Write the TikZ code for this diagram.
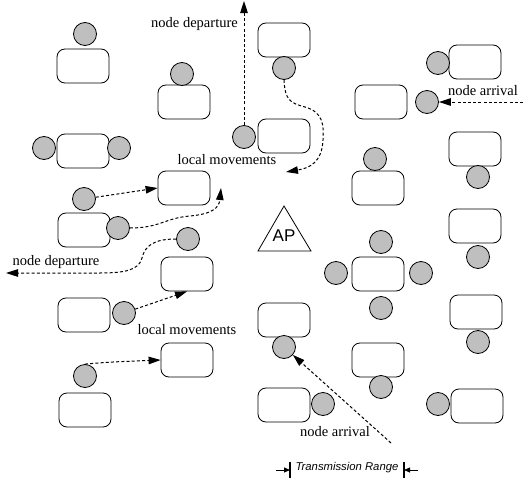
\documentclass[tikz,border=0pt]{standalone}
\usepackage{fontspec}
\setmainfont{Liberation Serif}
\setsansfont{Liberation Sans}
\usetikzlibrary{arrows.meta}
\begin{document}
\begin{tikzpicture}[x=1pt,y=-1pt,
  stn/.style={draw, rounded corners=8pt, minimum width=52pt, minimum height=34pt, inner sep=0pt, line width=0.8pt},
  mob/.style={draw, circle, fill=black!25, minimum size=23pt, inner sep=0pt, line width=0.8pt},
  mv/.style={line width=1pt, dash pattern=on 3pt off 2.2pt, -{Triangle[length=12pt,width=7.5pt]}},
  lbl/.style={font=\fontsize{14.5}{16}\selectfont, inner sep=0pt},
  rng/.style={line width=0.8pt, -{Triangle[length=6pt,width=5pt]}}]
\useasboundingbox (0,0) rectangle (523,482);
% stations
\node[stn] (bA1) at (83,66) {};
\node[stn] (bA2) at (83,151) {};
\node[stn] (bA3) at (84,230) {};
\node[stn] (bA4) at (84,315) {};
\node[stn] (bA5) at (85,410) {};
\node[stn] (bB1) at (184,102) {};
\node[stn] (bB2) at (184,188) {};
\node[stn] (bB3) at (187,274) {};
\node[stn] (bB4) at (187,360) {};
\node[stn] (bC1) at (284,40) {};
\node[stn] (bC2) at (284,136) {};
\node[stn] (bC3) at (284,320) {};
\node[stn] (bC4) at (284,405) {};
\node[stn] (bD1) at (381,102) {};
\node[stn] (bD2) at (378,188) {};
\node[stn] (bD3) at (378,274) {};
\node[stn] (bD4) at (378,360) {};
\node[stn] (bE1) at (475,62) {};
\node[stn] (bE2) at (475,149) {};
\node[stn] (bE3) at (475,226) {};
\node[stn] (bE4) at (476,312) {};
\node[stn] (bE5) at (477,406) {};
% mobiles
\node[mob] (cA1) at (85,34) {};
\node[mob] (cB1) at (182,74) {};
\node[mob] (cA2l) at (44,148) {};
\node[mob] (cA2r) at (119,148) {};
\node[mob] (cC2) at (244,137) {};
\node[mob] (cC1) at (284,68) {};
\node[mob] (cE1) at (438,63) {};
\node[mob] (cD1) at (427,102) {};
\node[mob] (cE2) at (478,177) {};
\node[mob] (cD2) at (375,159) {};
\node[mob] (cE3) at (478,257) {};
\node[mob] (cD3t) at (381,242) {};
\node[mob] (cD3l) at (336,273) {};
\node[mob] (cD3r) at (421,273) {};
\node[mob] (cD3b) at (381,308) {};
\node[mob] (cC3) at (284,347) {};
\node[mob] (cE4) at (478,342) {};
\node[mob] (cD4) at (381,387) {};
\node[mob] (cC4) at (323,404) {};
\node[mob] (cE5) at (438,404) {};
\node[mob] (cA3u) at (84,199) {};
\node[mob] (cA3r) at (118,228) {};
\node[mob] (cB3) at (188,239) {};
\node[mob] (cA4) at (124,313) {};
\node[mob] (cA5) at (85,376) {};
% AP
\draw[line width=0.8pt] (284,206) -- (311,251) -- (258,251) -- cycle;
\node[font=\sffamily\fontsize{17}{18}\selectfont, inner sep=0pt] (ap) at (284,236) {AP};
% free ends
\coordinate (topout) at (244,1);
\coordinate (rin) at (523,102);
\coordinate (lout) at (6,273);
\coordinate (bin) at (391,443);
\coordinate (t1) at (286,172);
\coordinate (t2) at (221,188);
% movements
\draw[mv] (cC2) -- (topout);
\draw[mv] (rin) -- (cD1);
\draw[mv] (cA3u) -- (bB2.west);
\draw[mv] (cA3r.east) .. controls (160,228) and (165,218) .. (190,216) .. controls (212,214) and (219,208) .. (t2);
\draw[mv] (cC1.south) .. controls (285,100) and (290,103) .. (305,107) .. controls (323,112) and (324,125) .. (323,140) .. controls (322,162) and (310,168) .. (t1);
\draw[mv] (cB3.west) .. controls (155,239) and (145,245) .. (142,258) .. controls (139,270) and (125,273) .. (100,273) -- (lout);
\draw[mv] (cA4) -- (bB3.south);
\draw[mv] (cA5.north) .. controls (110,362) .. (bB4.west);
\draw[mv] (bin) -- (cC3);
% labels
\node[lbl, anchor=east] (l1) at (238,24) {node departure};
\node[lbl] (l2) at (227,160) {local movements};
\node[lbl] (l3) at (483,91) {node arrival};
\node[lbl] (l4) at (56,262) {node departure};
\node[lbl] (l5) at (187,330) {local movements};
\node[lbl] (l6) at (335,432) {node arrival};
% transmission range
\coordinate (rl) at (290,470);
\coordinate (rr) at (404,470);
\draw[line width=1.2pt] (290,462) -- (290,478);
\draw[line width=1.2pt] (404,462) -- (404,478);
\draw[rng] (276,470) -- (rl);
\draw[rng] (418,470) -- (rr);
\node[font=\sffamily\itshape\fontsize{11.3}{12}\selectfont, inner sep=0pt] (tr) at (347,468) {Transmission Range};
\end{tikzpicture}
\end{document}
